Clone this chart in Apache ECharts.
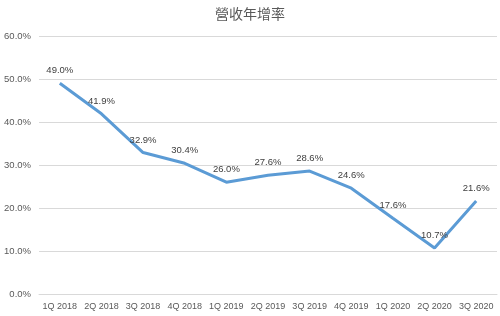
<!DOCTYPE html>
<html><head><meta charset="utf-8">
<script src="https://cdn.jsdelivr.net/npm/echarts@6/dist/echarts.min.js"></script>
<style>html,body{margin:0;padding:0;background:#fff}#c{width:500px;height:316px}</style>
</head><body><div id="c"></div>
<script>
const categories = ['1Q 2018','2Q 2018','3Q 2018','4Q 2018','1Q 2019','2Q 2019','3Q 2019','4Q 2019','1Q 2020','2Q 2020','3Q 2020'];
const growth = [49.0, 41.9, 32.9, 30.4, 26.0, 27.6, 28.6, 24.6, 17.6, 10.7, 21.6];
const titleText = '營收年增率';
const chart = echarts.init(document.getElementById('c'), null, {renderer:'canvas'});
chart.setOption({
  animation:false,
  backgroundColor:'#fff',
  title:{text:titleText,left:'center',top:2,textStyle:{fontSize:14,fontWeight:'normal',color:'#595959',fontFamily:'Noto Sans CJK TC'}},
  grid:{left:39,right:3,top:36,bottom:22,containLabel:false},
  xAxis:{type:'category',data:categories,boundaryGap:true,
    axisLine:{show:true,lineStyle:{color:'#d9d9d9'}},axisTick:{show:false},
    axisLabel:{color:'#595959',fontSize:9,margin:8,interval:0,fontFamily:'Liberation Sans'}},
  yAxis:{type:'value',min:0,max:60,interval:10,
    axisLine:{show:false},axisTick:{show:false},
    splitLine:{lineStyle:{color:'#d9d9d9'}},
    axisLabel:{color:'#595959',fontSize:9.5,margin:8,fontFamily:'Liberation Sans',formatter:v=>v.toFixed(1)+'%'}},
  series:[{type:'line',data:growth,showSymbol:true,symbol:'circle',symbolSize:1,smooth:false,
    itemStyle:{color:'rgba(0,0,0,0)'},
    lineStyle:{color:'#5B9BD5',width:3},
    labelLayout:{hideOverlap:false},
    label:{show:true,position:'top',distance:7,color:'#404040',fontSize:9.5,fontFamily:'Liberation Sans',formatter:p=>p.value.toFixed(1)+'%'}}]
});
</script></body></html>
